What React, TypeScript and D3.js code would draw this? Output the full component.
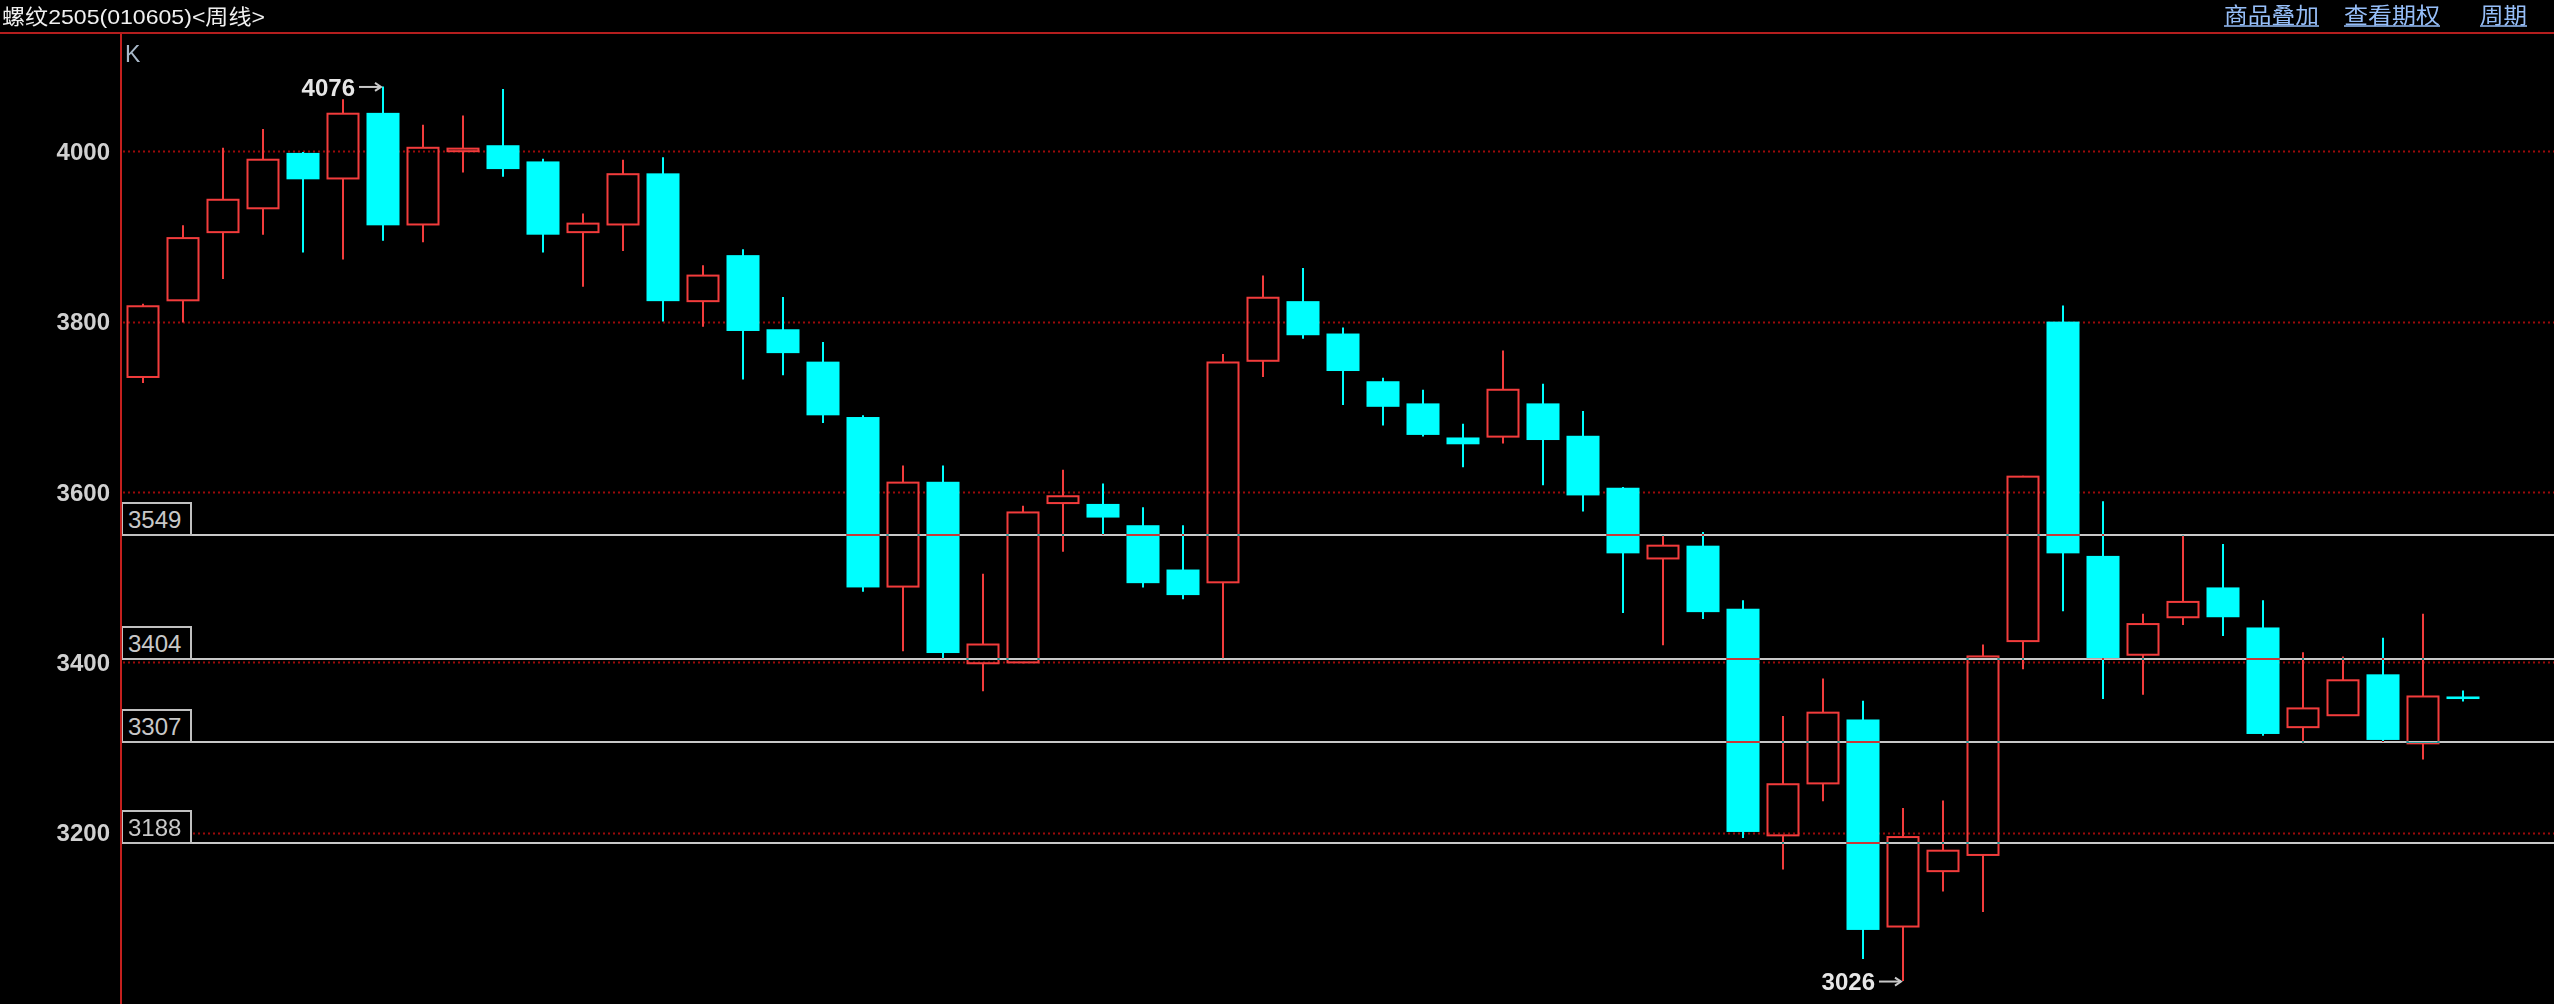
import React from 'react';
import * as d3 from 'd3';

// ---- data (weekly candles) ----
const opens = [3735, 3825, 3905, 3933, 3998, 3968, 4045, 3914, 4000, 4007, 3988, 3905, 3914, 3974, 3824, 3878, 3791, 3753, 3688, 3489, 3612, 3399, 3400, 3587, 3586, 3561, 3509, 3494, 3754, 3824, 3786, 3730, 3704, 3664, 3665, 3704, 3666, 3605, 3522, 3537, 3463, 3197, 3258, 3333, 3090, 3155, 3174, 3425, 3800, 3525, 3409, 3453, 3488, 3441, 3324, 3338, 3386, 3305, 3360];
const highs = [3821, 3913, 4004, 4026, 3999, 4061, 4076, 4031, 4042, 4073, 3991, 3927, 3990, 3993, 3866, 3885, 3829, 3776, 3690, 3631, 3631, 3504, 3584, 3626, 3610, 3582, 3561, 3762, 3854, 3863, 3793, 3734, 3720, 3680, 3766, 3727, 3695, 3606, 3549, 3553, 3473, 3337, 3381, 3355, 3229, 3238, 3421, 3619, 3819, 3589, 3457, 3549, 3539, 3473, 3412, 3407, 3429, 3457, 3367];
const lows = [3728, 3799, 3850, 3902, 3881, 3873, 3895, 3893, 3975, 3970, 3881, 3841, 3883, 3800, 3794, 3732, 3737, 3681, 3483, 3413, 3405, 3366, 3399, 3530, 3550, 3488, 3474, 3405, 3735, 3780, 3702, 3678, 3665, 3629, 3657, 3608, 3577, 3458, 3420, 3451, 3194, 3157, 3237, 3052, 3026, 3131, 3107, 3392, 3460, 3357, 3362, 3444, 3431, 3314, 3305, 3338, 3307, 3286, 3354];
const closes = [3818, 3898, 3943, 3990, 3967, 4044, 3913, 4004, 4003, 3979, 3902, 3915, 3973, 3824, 3854, 3789, 3763, 3690, 3488, 3611, 3411, 3421, 3576, 3595, 3570, 3493, 3479, 3752, 3828, 3784, 3742, 3700, 3667, 3656, 3720, 3661, 3596, 3528, 3537, 3459, 3201, 3257, 3341, 3086, 3195, 3179, 3407, 3618, 3528, 3405, 3445, 3471, 3453, 3316, 3346, 3379, 3309, 3360, 3357];
const weekIndex = opens.map((_, i) => i);

const yTicks = [4000, 3800, 3600, 3400, 3200];
const supportLevels = [3549, 3404, 3307, 3188];
const maxMark = { index: 6, value: 4076 };
const minMark = { index: 44, value: 3026 };

const title = '螺纹2505(010605)<周线>';
const menuLinks = ['商品叠加', '查看期权', '周期'];
const indicatorName = 'K';

// ---- styles ----
const W = 2554;
const H = 1004;
const AXIS_X = 121;
const HEADER_Y = 33;
const UP = '#f23c3c';
const DOWN = '#00ffff';
const GRID = '#9b0a0a';
const AXIS_RED = '#c4201e';
const LABEL = '#d0d0d0';
const LINK = '#96bef8';
const NUM_FONT = '"Liberation Sans", Arial, sans-serif';
const HEAD_FONT = '"Liberation Sans", "Noto Sans CJK SC", sans-serif';

export default function App() {
  const y = d3.scaleLinear().domain([3200, 4000]).range([832.8, 151.2]);
  const x = d3.scaleLinear().domain([0, weekIndex.length - 1]).range([143, 2463]);
  const bodyW = 33;

  const linkX = [2224, 2344, 2480];
  const linkW = [95, 96, 47];

  return (
    <svg width={W} height={H} style={{ position: 'absolute', left: 0, top: 0, background: '#000' }}>
      <rect x={0} y={0} width={W} height={H} fill="#000" />

      {/* dotted grid */}
      {yTicks.map((t) => (
        <line key={'g' + t} x1={AXIS_X + 2} x2={W} y1={Math.round(y(t)) + 0.5} y2={Math.round(y(t)) + 0.5}
          stroke={GRID} strokeWidth={2} strokeDasharray="2,3" />
      ))}

      {/* candles */}
      {weekIndex.map((i) => {
        const o = opens[i], c = closes[i], h = highs[i], l = lows[i];
        const cx = Math.round(x(i));
        const up = c >= o;
        const top = y(Math.max(o, c));
        const bot = y(Math.min(o, c));
        if (up) {
          return (
            <g key={i}>
              <line x1={cx} x2={cx} y1={y(h)} y2={top} stroke={UP} strokeWidth={2} />
              <line x1={cx} x2={cx} y1={bot} y2={y(l)} stroke={UP} strokeWidth={2} />
              <rect x={cx - bodyW / 2 + 1} y={top} width={bodyW - 2} height={Math.max(bot - top, 1)}
                fill="none" stroke={UP} strokeWidth={2} />
            </g>
          );
        }
        return (
          <g key={i}>
            <line x1={cx} x2={cx} y1={y(h)} y2={y(l)} stroke={DOWN} strokeWidth={2} />
            <rect x={cx - bodyW / 2} y={top} width={bodyW} height={Math.max(bot - top, 2)} fill={DOWN} />
          </g>
        );
      })}

      {/* support / resistance lines */}
      {supportLevels.map((v) => {
        const yy = Math.round(y(v));
        return (
          <g key={'s' + v}>
            <line x1={AXIS_X} x2={W} y1={yy} y2={yy} stroke="#c8c8c8" strokeWidth={2}
              style={{ mixBlendMode: 'difference' }} />
            <rect x={AXIS_X + 1} y={yy - 32} width={69} height={32} fill="#000" stroke="#c0c0c0" strokeWidth={2} />
            <text x={AXIS_X + 7} y={yy - 16} dy="0.36em" fill="#c8c8c8" fontFamily={NUM_FONT} fontSize={24}>{v}</text>
          </g>
        );
      })}

      {/* y axis labels */}
      {yTicks.map((t) => (
        <text key={'t' + t} x={110} y={y(t)} dy="0.36em" textAnchor="end" fill={LABEL}
          fontFamily={NUM_FONT} fontSize={24} fontWeight="bold">{t}</text>
      ))}

      {/* extreme markers */}
      {[maxMark, minMark].map((m) => {
        const tip = Math.round(x(m.index)) - 2;
        const yy = y(m.value) + 0.5;
        return (
          <g key={'m' + m.value}>
            <text x={tip - 26} y={yy} dy="0.36em" textAnchor="end" fill="#e6e6e6"
              fontFamily={NUM_FONT} fontSize={24} fontWeight="bold">{m.value}</text>
            <line x1={tip - 22} x2={tip} y1={yy} y2={yy} stroke="#c8c8c8" strokeWidth={2} />
            <path d={`M${tip - 6},${yy - 4} L${tip},${yy} L${tip - 6},${yy + 4}`} fill="none" stroke="#c8c8c8" strokeWidth={2} />
          </g>
        );
      })}

      {/* axis line */}
      <line x1={AXIS_X} x2={AXIS_X} y1={HEADER_Y} y2={H} stroke={AXIS_RED} strokeWidth={2} />
      <text x={125} y={62} fill="#a8b8c8" fontFamily={NUM_FONT} fontSize={23}>{indicatorName}</text>

      {/* header */}
      <line x1={0} x2={W} y1={HEADER_Y} y2={HEADER_Y} stroke="#b41e1e" strokeWidth={2} />
      <text x={2} y={24} fill="#f0f0f0" fontFamily={HEAD_FONT} fontSize={21} textLength={263}
        lengthAdjust="spacingAndGlyphs">{title}</text>
      {menuLinks.map((s, i) => (
        <g key={s}>
          <text x={linkX[i]} y={23} fill={LINK} fontFamily={HEAD_FONT} fontSize={22} textLength={linkW[i]}
            lengthAdjust="spacingAndGlyphs">{s}</text>
          <line x1={linkX[i]} x2={linkX[i] + linkW[i]} y1={26} y2={26} stroke={LINK} strokeWidth={1.5} />
        </g>
      ))}
    </svg>
  );
}
